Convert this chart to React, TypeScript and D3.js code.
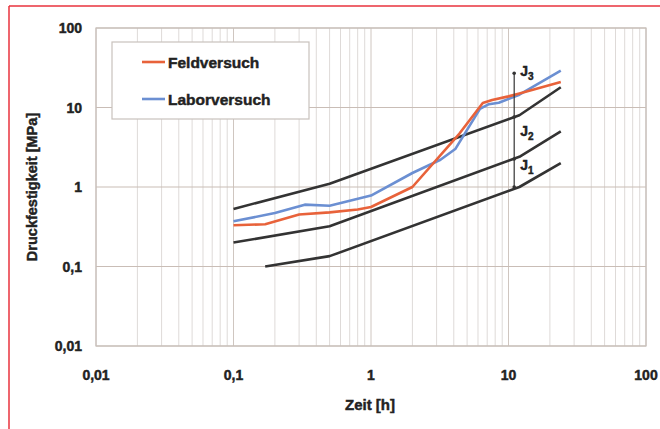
import React from "react";
import * as d3 from "d3";

const W = 660;
const H = 429;

const xTicks = [0.01, 0.1, 1, 10, 100];
const yTicks = [0.01, 0.1, 1, 10, 100];
const xTickLabels = ["0,01", "0,1", "1", "10", "100"];
const yTickLabels = ["0,01", "0,1", "1", "10", "100"];

// Measured strength curves: [time h, strength MPa]
const feldversuch: [number, number][] = [
  [0.1, 0.33], [0.17, 0.34], [0.3, 0.45], [0.5, 0.48], [0.8, 0.52], [1, 0.56],
  [2, 1.0], [4.4, 4.7], [6.5, 11.4], [7.6, 12.4], [10, 13.8], [12, 15], [24, 21],
];
const laborversuch: [number, number][] = [
  [0.1, 0.37], [0.2, 0.47], [0.33, 0.6], [0.5, 0.58], [1, 0.78], [2, 1.5],
  [3.2, 2.2], [4.1, 3.0], [6.2, 9.6], [7.2, 11], [8.5, 11.5], [12, 14.5], [24, 29],
];

// Boundary curves J1 / J2 / J3
const grenzeOben: [number, number][] = [[0.1, 0.53], [0.5, 1.1], [12, 8], [24, 18]];
const grenzeMitte: [number, number][] = [[0.1, 0.2], [0.5, 0.32], [12, 2.4], [24, 5]];
const grenzeUnten: [number, number][] = [[0.17, 0.1], [0.5, 0.135], [12, 1.0], [24, 2.0]];

// Vertical class marker at t = 11 h
const markerX = 11;
const markerStops = [27, 7.6, 2.25, 1.0];
const classLabels = [
  { sub: "3", y: 28 },
  { sub: "2", y: 4.9 },
  { sub: "1", y: 1.84 },
];

const legendItems = [
  { label: "Feldversuch", color: "#e8623a" },
  { label: "Laborversuch", color: "#6b8fd2" },
];

export default function App() {
  const left = 96, right = 646, top = 28, bottom = 346;
  const x = d3.scaleLog().domain([0.01, 100]).range([left, right]);
  const y = d3.scaleLog().domain([0.01, 100]).range([bottom, top]);
  const line = d3.line<[number, number]>().x((d) => x(d[0])).y((d) => y(d[1]));

  const minorX: number[] = [];
  for (let e = -2; e < 2; e++) {
    for (let m = 2; m <= 9; m++) minorX.push(m * Math.pow(10, e));
  }

  const font = "Arial, 'Liberation Sans', sans-serif";
  const blk = "#333";
  const txt = { fontFamily: font, fontWeight: "bold" as const, fill: "#222", stroke: "#222", strokeWidth: 0.45 };

  return (
    <svg width={W} height={H} style={{ position: "absolute", left: 0, top: 0, background: "#fff" }}>
      <rect x={0} y={0} width={W} height={H} fill="#fff" />
      {/* frame lines */}
      <line x1={9} x2={W} y1={6} y2={6} stroke="#e8323c" strokeWidth={1.5} />
      <line x1={9} x2={9} y1={6} y2={H} stroke="#e8323c" strokeWidth={1.5} />

      {/* minor grid */}
      {minorX.map((v, i) => (
        <line key={"mx" + i} x1={x(v)} x2={x(v)} y1={top} y2={bottom} stroke="#dedad8" strokeWidth={1} />
      ))}
      {/* major grid */}
      {xTicks.map((v, i) => (
        <line key={"gx" + i} x1={x(v)} x2={x(v)} y1={top} y2={bottom} stroke="#cfc6c0" strokeWidth={1} />
      ))}
      {yTicks.map((v, i) => (
        <line key={"gy" + i} x1={left} x2={right} y1={y(v)} y2={y(v)} stroke="#c9bdb6" strokeWidth={1.2} />
      ))}
      <rect x={left} y={top} width={right - left} height={bottom - top} fill="none" stroke="#c8c0bb" strokeWidth={1.2} />

      {/* tick labels */}
      {yTicks.map((v, i) => (
        <text key={"yt" + i} x={82} y={y(v) + 5} textAnchor="end" fontSize={14} {...txt}>
          {yTickLabels[i]}
        </text>
      ))}
      {xTicks.map((v, i) => (
        <text key={"xt" + i} x={x(v)} y={380} textAnchor="middle" fontSize={14} {...txt}>
          {xTickLabels[i]}
        </text>
      ))}
      <text x={370} y={410} textAnchor="middle" fontSize={15} {...txt}>
        Zeit [h]
      </text>
      <text transform="translate(37,187) rotate(-90)" textAnchor="middle" fontSize={14.5} {...txt}>
        Druckfestigkeit [MPa]
      </text>

      {/* boundary curves */}
      {[grenzeOben, grenzeMitte, grenzeUnten].map((d, i) => (
        <path key={"g" + i} d={line(d) || ""} fill="none" stroke={blk} strokeWidth={2.6} strokeLinejoin="round" />
      ))}

      {/* measured curves */}
      <path d={line(laborversuch) || ""} fill="none" stroke={legendItems[1].color} strokeWidth={2.6} strokeLinejoin="round" />
      <path d={line(feldversuch) || ""} fill="none" stroke={legendItems[0].color} strokeWidth={2.6} strokeLinejoin="round" />

      {/* class marker */}
      <line x1={x(markerX)} x2={x(markerX)} y1={y(markerStops[0])} y2={y(markerStops[markerStops.length - 1])} stroke={blk} strokeWidth={1.2} />
      {markerStops.map((v, i) => (
        <circle key={"ms" + i} cx={x(markerX)} cy={y(v)} r={1.8} fill={blk} />
      ))}
      {classLabels.map((c, i) => (
        <text key={"cl" + i} x={x(markerX) + 6} y={y(c.y) + 4} fontSize={14} {...txt}>
          J<tspan fontSize={10} dy={4}>{c.sub}</tspan>
        </text>
      ))}

      {/* legend */}
      <rect x={112} y={42} width={197} height={77} fill="#fff" stroke="#c9c2bd" strokeWidth={1.2} />
      {legendItems.map((it, i) => (
        <g key={"lg" + i} transform={`translate(0,${62 + i * 37})`}>
          <line x1={142} x2={165} y1={0} y2={0} stroke={it.color} strokeWidth={2.6} />
          <text x={168} y={5.5} fontSize={15.5} {...txt}>
            {it.label}
          </text>
        </g>
      ))}
    </svg>
  );
}
